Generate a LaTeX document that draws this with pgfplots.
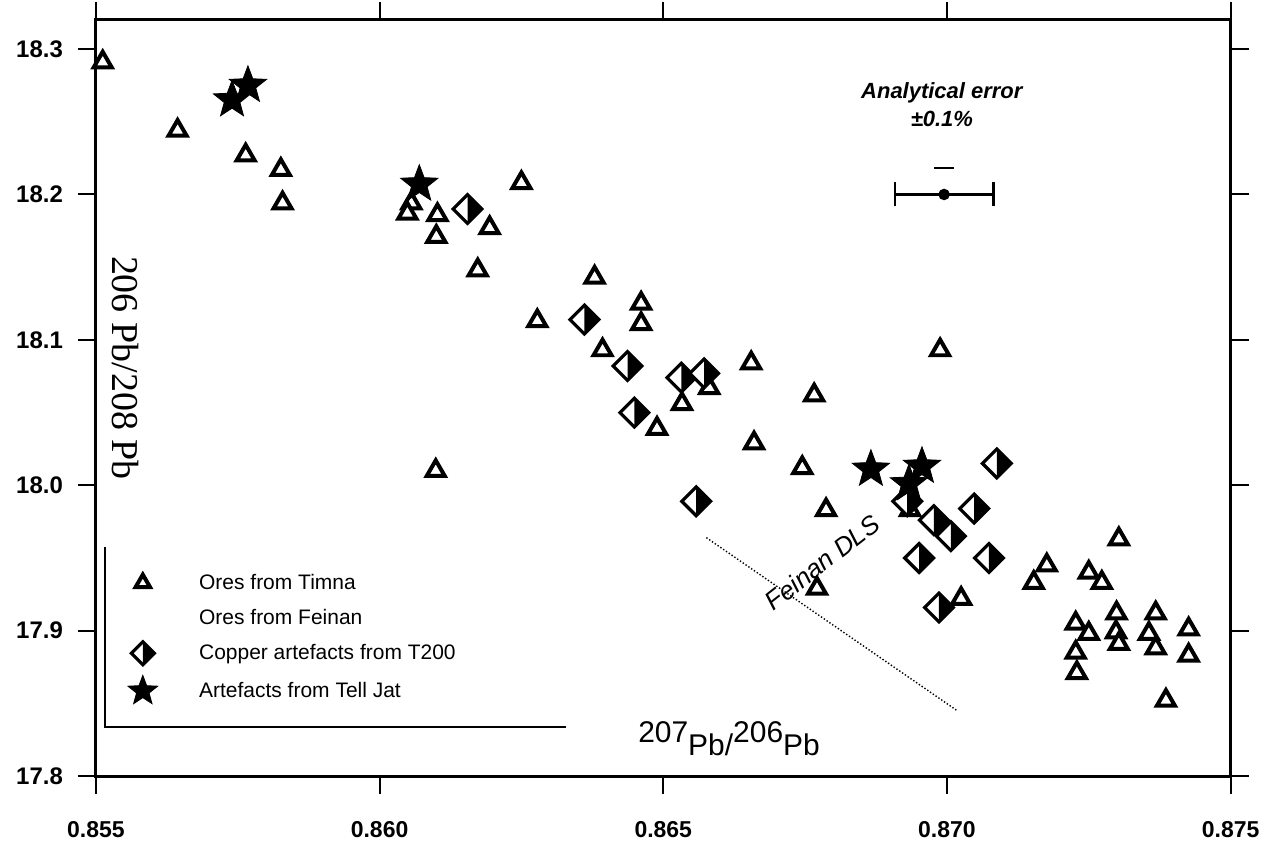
\documentclass[border=0pt]{standalone}
\usepackage{fontspec}
\setmainfont{Liberation Sans}
\newfontfamily\seriffont{Liberation Serif}
\usepackage{pgfplots}
\pgfplotsset{compat=1.18}

% filled five-point star
\pgfdeclareplotmark{fstar}{%
  \pgfpathmoveto{\pgfqpointpolar{90}{\pgfplotmarksize}}%
  \pgfpathlineto{\pgfqpointpolar{126}{0.42\pgfplotmarksize}}%
  \pgfpathlineto{\pgfqpointpolar{162}{\pgfplotmarksize}}%
  \pgfpathlineto{\pgfqpointpolar{198}{0.42\pgfplotmarksize}}%
  \pgfpathlineto{\pgfqpointpolar{234}{\pgfplotmarksize}}%
  \pgfpathlineto{\pgfqpointpolar{270}{0.42\pgfplotmarksize}}%
  \pgfpathlineto{\pgfqpointpolar{306}{\pgfplotmarksize}}%
  \pgfpathlineto{\pgfqpointpolar{342}{0.42\pgfplotmarksize}}%
  \pgfpathlineto{\pgfqpointpolar{18}{\pgfplotmarksize}}%
  \pgfpathlineto{\pgfqpointpolar{54}{0.42\pgfplotmarksize}}%
  \pgfpathclose
  \pgfusepathqfillstroke
}
% diamond, right half black
\pgfdeclareplotmark{hdiamond}{%
  \pgfpathmoveto{\pgfqpoint{0pt}{\pgfplotmarksize}}%
  \pgfpathlineto{\pgfqpoint{\pgfplotmarksize}{0pt}}%
  \pgfpathlineto{\pgfqpoint{0pt}{-\pgfplotmarksize}}%
  \pgfpathlineto{\pgfqpoint{-\pgfplotmarksize}{0pt}}%
  \pgfpathclose
  \pgfusepathqfillstroke
  \begin{pgfscope}
  \pgfsetfillcolor{black}%
  \pgfpathmoveto{\pgfqpoint{0pt}{\pgfplotmarksize}}%
  \pgfpathlineto{\pgfqpoint{\pgfplotmarksize}{0pt}}%
  \pgfpathlineto{\pgfqpoint{0pt}{-\pgfplotmarksize}}%
  \pgfpathclose
  \pgfusepathqfill
  \end{pgfscope}
}

\begin{document}
\begin{tikzpicture}
\begin{axis}[
    scale only axis,
    width=568pt, height=378.5pt,
    xmin=0.855, xmax=0.875, ymin=17.8, ymax=18.32,
    xtick={0.855,0.860,0.865,0.870,0.875},
    ytick={17.8,17.9,18.0,18.1,18.2,18.3},
    tick align=outside,
    major tick length=9pt,
    axis line style={line width=1.5pt},
    major tick style={line width=1pt, black},
    /pgf/number format/assume math mode=true,
    xticklabel style={/pgf/number format/fixed, /pgf/number format/fixed zerofill, /pgf/number format/precision=3,
        font=\bfseries\fontsize{11.5}{13}\selectfont, yshift=-10pt},
    yticklabel style={/pgf/number format/fixed, /pgf/number format/fixed zerofill, /pgf/number format/precision=1,
        font=\bfseries\fontsize{12}{14}\selectfont, xshift=-4pt},
    scaled x ticks=false,
    xlabel={\fontsize{15}{17}\selectfont\raisebox{6.5pt}{207}Pb/\raisebox{6.5pt}{206}Pb},
    xlabel style={at={(axis description cs:0.558,0.05)}, anchor=center},
    ylabel={\seriffont\fontsize{19}{21}\selectfont 206 Pb/208 Pb},
    ylabel style={at={(axis description cs:0.026,0.54)}, rotate=180, anchor=center},
    legend style={draw=none, fill=none, at={(0.016,0.184)}, anchor=west,
        font=\fontsize{10.5}{12}\selectfont, row sep=4.5pt},
    legend cell align=left,
    legend image code/.code={%
        \path (0pt,0pt) (37pt,0pt);
        \draw[#1, every mark/.append style={scale=0.8}, mark repeat=2, mark phase=2]
            plot coordinates {(0pt,0pt) (11pt,0pt) (22pt,0pt)};},
]
% Ores from Timna
\addplot[only marks, mark=triangle*, mark size=5.2pt,
    mark options={fill=white, draw=black, line width=2pt}] coordinates {
(0.85512,18.291) (0.85644,18.244) (0.85764,18.227) (0.85826,18.217) (0.85829,18.194)
(0.86056,18.194) (0.86049,18.187) (0.86102,18.186) (0.86100,18.171) (0.86194,18.177)
(0.86250,18.208) (0.86173,18.148) (0.86278,18.113) (0.86379,18.143) (0.86461,18.125)
(0.86461,18.111) (0.86393,18.093) (0.86581,18.067) (0.86533,18.056) (0.86489,18.039)
(0.86655,18.084) (0.86660,18.029) (0.86099,18.010) (0.86766,18.062) (0.86745,18.012)
(0.86787,17.983) (0.86771,17.929) (0.87025,17.922) (0.86988,18.093) (0.86935,17.983)
(0.87303,17.963) (0.87176,17.945) (0.87153,17.933) (0.87250,17.940) (0.87273,17.933)
(0.87227,17.905) (0.87250,17.898) (0.87227,17.885) (0.87229,17.871) (0.87299,17.912)
(0.87298,17.899) (0.87303,17.891) (0.87368,17.912) (0.87356,17.898) (0.87368,17.888)
(0.87426,17.901) (0.87426,17.883) (0.87386,17.852)
};
\addlegendentry{Ores from Timna}
\addlegendimage{empty legend}
\addlegendentry{Ores from Feinan}
% Copper artefacts from T200
\addplot[only marks, mark=hdiamond, mark size=7.2pt,
    mark options={fill=white, draw=black, line width=1.6pt}] coordinates {
(0.86155,18.190) (0.86361,18.114) (0.86437,18.082) (0.86532,18.074) (0.86572,18.077)
(0.86449,18.050) (0.86558,17.989) (0.87088,18.015) (0.87048,17.984) (0.86951,17.950)
(0.87074,17.950) (0.86986,17.916) (0.86930,17.989) (0.86977,17.976) (0.87007,17.965)
};
\addlegendentry{Copper artefacts from T200}
% Artefacts from Tell Jat
\addplot[only marks, mark=fstar, mark size=9.8pt,
    mark options={fill=black, draw=black, line width=0.4pt}] coordinates {
(0.85740,18.265) (0.85768,18.275) (0.86070,18.207)
(0.86866,18.011) (0.86956,18.013) (0.86933,18.001)
};
\addlegendentry{Artefacts from Tell Jat}

% analytical error bar
\addplot[forget plot, black, line width=1.1pt, mark=*, mark size=2.3pt,
    error bars/.cd, x dir=both, x explicit,
    error bar style={line width=1.1pt},
    error mark options={rotate=90, mark size=6pt, line width=1.1pt}]
    coordinates {(0.86995,18.2) +- (0.00087,0)};
\addplot[forget plot, black, line width=1pt] coordinates {(0.86978,18.218) (0.87012,18.218)};
\node[font=\bfseries\itshape\fontsize{11}{14}\selectfont, align=center]
    at (axis cs:0.86991,18.262) {Analytical error\\±0.1\%};

% Feinan DLS line
\addplot[forget plot, black, densely dotted, line width=0.7pt]
    coordinates {(0.86576,17.964) (0.87018,17.845)};
\node[font=\itshape\fontsize{13}{15}\selectfont, rotate=38]
    at (axis cs:0.86780,17.947) {Feinan DLS};

% legend frame (left and bottom edge only)
\draw[line width=1pt] (rel axis cs:0.008,0.3025) |- (rel axis cs:0.4146,0.0647);
\end{axis}
\path (current axis.south west) ++(-48pt,-30.5pt);
\path (current axis.north east) ++(17pt,10pt);
\end{tikzpicture}
\end{document}
